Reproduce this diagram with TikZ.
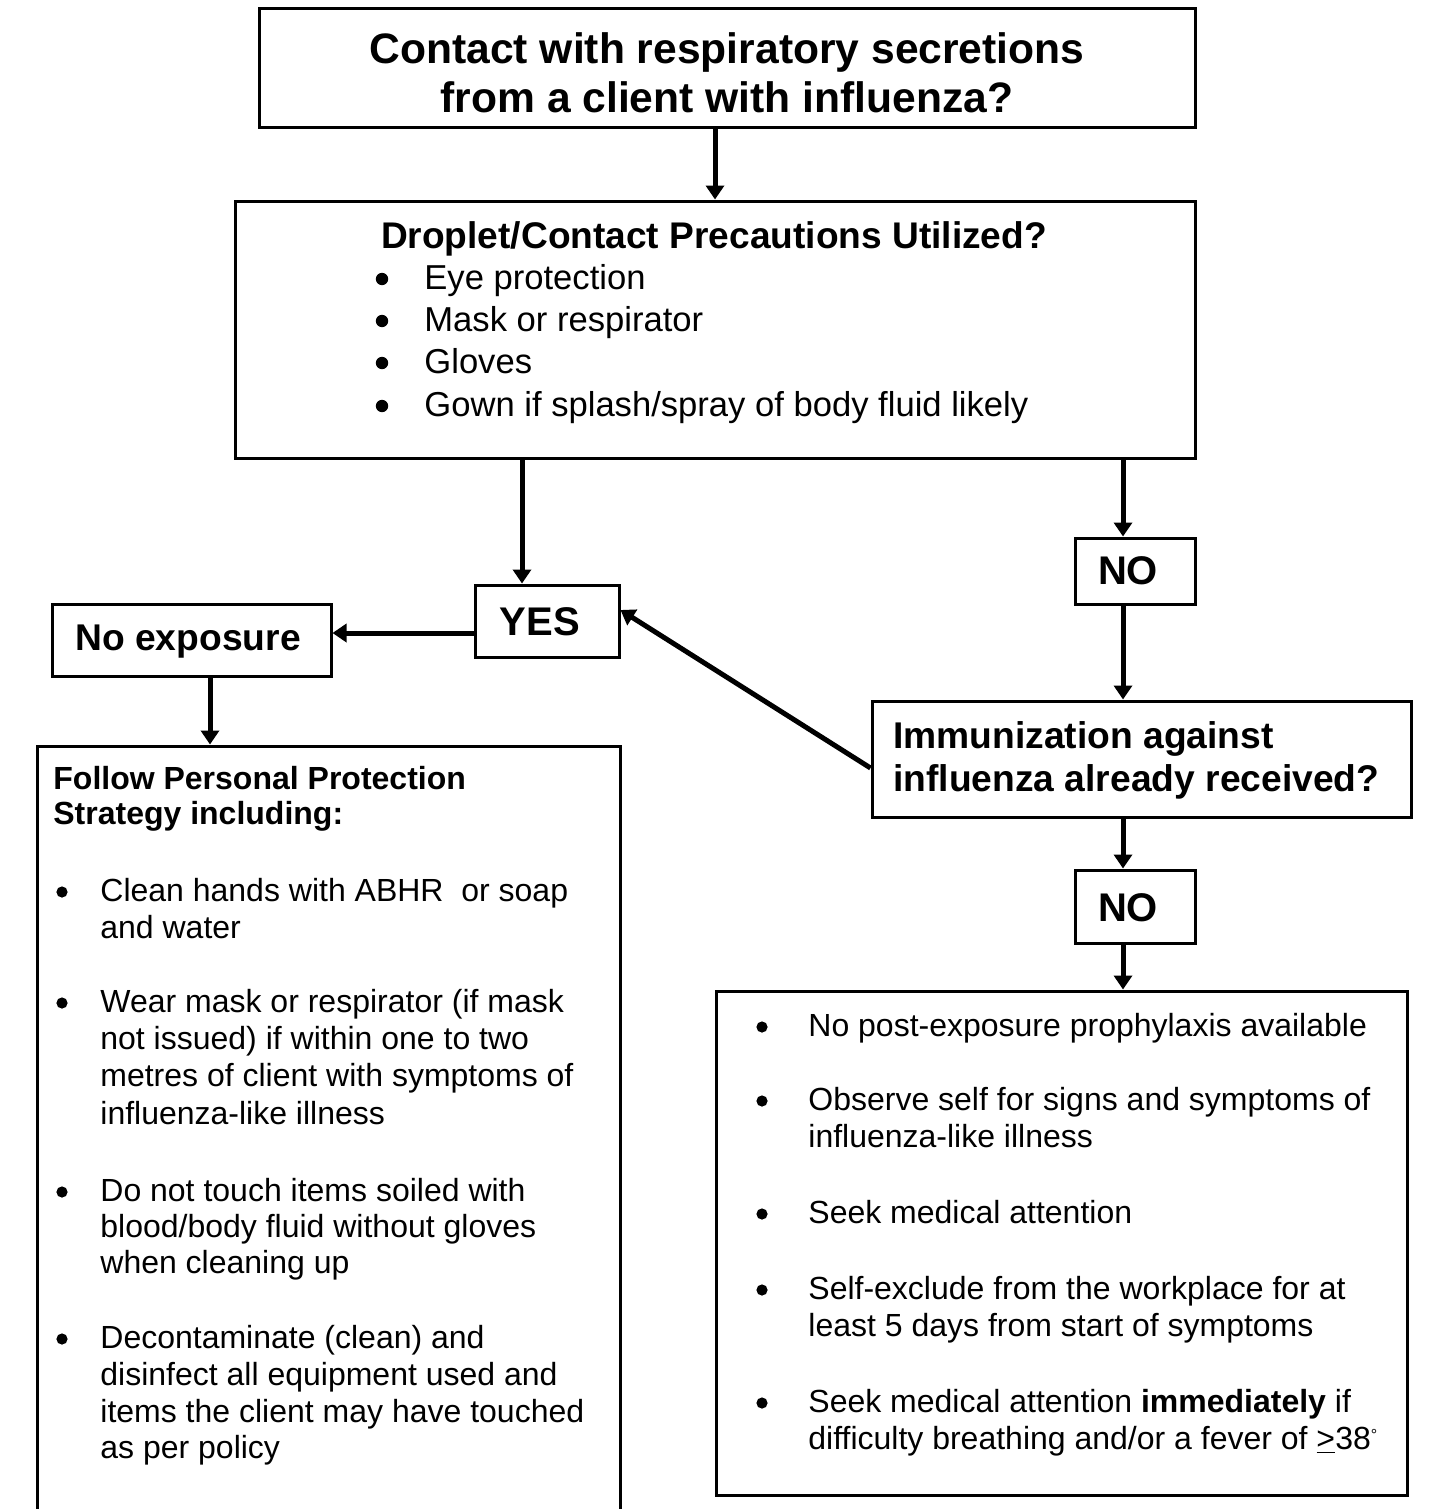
\documentclass[tikz,border=0pt]{standalone}
\usepackage{fontspec}
\setmainfont{Liberation Sans}
\usetikzlibrary{arrows.meta}
\begin{document}
\begin{tikzpicture}[x=0.5pt,y=-0.5pt,
  box/.style={draw, line width=1.5pt, inner sep=0pt},
  arr/.style={line width=2.5pt, -{Triangle[length=7pt,width=9pt]}},
  % one line of text, placed by the vertical middle of its capitals
  ln/.style={inner sep=0pt, text depth=0pt},
  t16/.style={ln, anchor=west, text height=11.5pt, font=\fontsize{16}{18.5}\selectfont},
  b16/.style={ln, anchor=west, text height=11.5pt, font=\fontsize{16}{18.5}\selectfont\bfseries},
  t17/.style={ln, anchor=west, text height=12.4pt, font=\fontsize{17.3}{20}\selectfont},
  b18c/.style={ln, anchor=center, text height=13.3pt, font=\fontsize{18.55}{21.5}\selectfont\bfseries},
  b185/.style={ln, anchor=west, text height=13.3pt, font=\fontsize{18.6}{21.5}\selectfont\bfseries},
  b20c/.style={ln, anchor=center, text height=14.4pt, font=\fontsize{20}{23}\selectfont\bfseries},
  b21c/.style={ln, anchor=center, text height=15.1pt, font=\fontsize{21.3}{24.5}\selectfont\bfseries},
  % round list bullets
  dot/.style={circle, fill, inner sep=0pt, minimum size=#1},
  dot/.default=5.6pt]

\fill[white] (0,0) rectangle (1440,1509);
\useasboundingbox (0,0) rectangle (1440,1509);
\clip (0,0) rectangle (1440,1509);

% ---- boxes ----
\node[box, minimum width=468pt, minimum height=59.5pt] (title) at (727,68.5) {};
\node[box, minimum width=480pt, minimum height=128.5pt] (drop) at (715,329.5) {};
\node[box, minimum width=60pt, minimum height=33pt] (no1) at (1135,571) {};
\node[box, minimum width=72pt, minimum height=36pt] (yes) at (547,621) {};
\node[box, minimum width=139.5pt, minimum height=36pt] (noexp) at (191.5,640) {};
\node[box, minimum width=269.5pt, minimum height=58pt] (immun) at (1141.5,759) {};
\node[box, minimum width=60pt, minimum height=36.5pt] (no2) at (1135,906.5) {};
\node[box, minimum width=291.5pt, minimum height=392pt] (left) at (328.5,1138) {};
\node[box, minimum width=345.5pt, minimum height=252pt] (right) at (1061.5,1243) {};

% ---- connector guides ----
\coordinate (vA) at (522,0);
\coordinate (vB) at (1123,0);
\coordinate (vC) at (210,0);
\coordinate (hA) at (0,633);

% ---- connectors ----
\draw[arr] (title.south -| drop.north) -- (drop.north);
\draw[arr] (drop.south -| vA) -- (yes.north -| vA);
\draw[arr] (drop.south -| vB) -- (no1.north -| vB);
\draw[arr] (no1.south -| vB) -- (immun.north -| vB);
\draw[arr] ([yshift=-4.5pt]immun.west) -- ([yshift=5.5pt]yes.east);
\draw[arr] (yes.west |- hA) -- (noexp.east |- hA);
\draw[arr] (noexp.south -| vC) -- (left.north -| vC);
\draw[arr] (immun.south -| vB) -- (no2.north -| vB);
\draw[arr] (no2.south -| vB) -- (right.north -| vB);

% ---- title ----
\node[b21c] (ti1) at (727,48) {Contact with respiratory secretions};
\node[b21c] (ti2) at (727,97) {from a client with influenza?};

% ---- precautions ----
\node[b18c] (dh) at (714,235) {Droplet/Contact Precautions Utilized?};
\foreach \y/\s [count=\i] in {277/Eye protection, 319/Mask or respirator, 361/Gloves,
    404/Gown if splash\slash spray of body fluid likely} {
  \node[dot=6.2pt] (db\i) at (382,\y+2) {};
  \node[t17] (dt\i) at (424,\y) {\s};
}

% ---- answers ----
\node[b20c] (no1t) at (1128,570) {NO};
\node[b20c] (yest) at (540,621) {YES};
\node[b20c] (no2t) at (1128,907) {NO};
\node[b185] (noexpt) at (75,637) {No exposure};
\node[b185] (im1) at (893,735) {Immunization against};
\node[b185] (im2) at (893,778) {influenza already received?};

% ---- personal protection strategy ----
\node[b16] (lh1) at (53,778) {Follow Personal Protection};
\node[b16] (lh2) at (53,813) {Strategy including:};
\foreach \y [count=\i] in {890,1001,1190,1337}
  \node[dot] (lb\i) at (62,\y+2) {};
\node[t16] (l1a) at (100,890) {Clean hands with ABHR\ \ or soap};
\node[t16] (l1b) at (100,927) {and water};
\node[t16] (l2a) at (100,1001) {Wear mask or respirator (if mask};
\node[t16] (l2b) at (100,1038) {not issued) if within one to two};
\node[t16] (l2c) at (100,1075) {metres of client with symptoms of};
\node[t16] (l2d) at (100,1113) {influenza-like illness};
\node[t16] (l3a) at (100,1190) {Do not touch items soiled with};
\node[t16] (l3b) at (100,1226) {blood/body fluid without gloves};
\node[t16] (l3c) at (100,1262) {when cleaning up};
\node[t16] (l4a) at (100,1337) {Decontaminate (clean) and};
\node[t16] (l4b) at (100,1374) {disinfect all equipment used and};
\node[t16] (l4c) at (100,1411) {items the client may have touched};
\node[t16] (l4d) at (100,1447) {as per policy};

% ---- no immunization ----
\foreach \y [count=\i] in {1025,1099,1212,1288,1401}
  \node[dot] (rb\i) at (762,\y+2) {};
\node[t16] (r1a) at (808,1025) {No post-exposure prophylaxis available};
\node[t16] (r2a) at (808,1099) {Observe self for signs and symptoms of};
\node[t16] (r2b) at (808,1136) {influenza-like illness};
\node[t16] (r3a) at (808,1212) {Seek medical attention};
\node[t16] (r4a) at (808,1288) {Self-exclude from the workplace for at};
\node[t16] (r4b) at (808,1325) {least 5 days from start of symptoms};
\node[t16] (r5a) at (808,1401) {Seek medical attention \textbf{immediately} if};
\node[t16] (r5b) at (808,1438) {difficulty breathing and/or a fever of \underline{>}38\raisebox{0.55ex}{\fontsize{8}{9}\selectfont °}};
\end{tikzpicture}
\end{document}
